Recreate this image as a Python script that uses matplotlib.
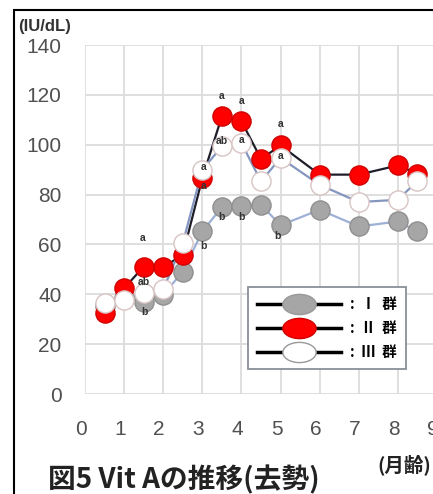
import matplotlib.pyplot as plt
from matplotlib.lines import Line2D
from matplotlib.path import Path
from matplotlib.patches import Rectangle
from matplotlib.transforms import Affine2D, ScaledTranslation

# 月齢ごとのビタミンA濃度 (IU/dL)
meses = [0.5, 1, 1.5, 2, 2.5, 3, 3.5, 4, 4.5, 5, 6, 7, 8, 8.5]
grupo1 = [35.5, 38.5, 37.0, 39.8, 49.1, 65.2, 75.0, 75.3, 75.9, 67.7, 73.9, 67.2, 69.2, 65.2]
grupo2 = [32.4, 42.4, 51.1, 50.9, 55.8, 86.6, 111.4, 109.4, 94.3, 99.7, 88.0, 88.0, 91.7, 88.4]
grupo3 = [36.4, 37.8, 40.7, 42.0, 60.5, 90.0, 99.3, 100.7, 85.3, 94.7, 83.9, 77.0, 77.9, 85.5]

# 有意差の記号
letras = ['a', 'ab', 'b', 'a', 'a', 'b', 'a', 'ab', 'b', 'a', 'a', 'b', 'a', 'a', 'b']
letras_x = [1.48, 1.5, 1.53, 3.04, 3.04, 3.04, 3.49, 3.49, 3.49, 4.0, 4.0, 4.0, 5.0, 5.0, 4.92]
letras_y = [62.5, 45.0, 33.0, 91.0, 83.3, 59.5, 119.7, 101.3, 71.2, 117.4, 102.0, 71.2, 108.4, 95.3, 63.5]

etiquetas = [':  Ⅰ  群', ':  Ⅱ  群', ':  Ⅲ  群']

W, H = 433, 494
fig = plt.figure(figsize=(W / 100, H / 100), dpi=100)
ax = fig.add_axes([85 / W, 1 - 394 / H, 352 / W, 349 / H])

estilos = [
    dict(line='#9db0d5', face='#a6a6a6', edge='#8f8f8f'),
    dict(line='#1e1e2a', face='#ff0000', edge='#d00000'),
    dict(line='#8496c0', face='#ffffff', edge='#d8c4c4'),
]
series = [grupo1, grupo2, grupo3]

for i, (ys, st) in enumerate(zip(series, estilos)):
    ax.plot(meses, ys, color=st['line'], lw=1.6, zorder=2 + i)
for i, (ys, st) in enumerate(zip(series, estilos)):
    ax.plot(meses, ys, ls='none', marker='o', ms=13.8, mfc=st['face'],
            mec=st['edge'], mew=1.0, zorder=5 + i)

for t, x, y in zip(letras, letras_x, letras_y):
    ax.text(x, y, t, ha='center', va='center', fontsize=7.5, fontweight='bold',
            color='#333333', family='Liberation Sans', zorder=10)

ax.set_xlim(0, 9)
ax.set_ylim(0, 140)
ax.set_xticks(range(0, 10))
ax.set_yticks(range(0, 141, 20))
ax.grid(True, color='#dcdcdc', lw=1.3)
ax.set_axisbelow(True)
for s in ax.spines.values():
    s.set_visible(False)
ax.tick_params(length=0, labelsize=15, labelcolor='#505050')
ax.tick_params(axis='y', pad=17)
ax.tick_params(axis='x', pad=19)
for lab in ax.get_xticklabels() + ax.get_yticklabels():
    lab.set_family('Liberation Sans')
for lab in ax.get_xticklabels():
    lab.set_transform(lab.get_transform() + ScaledTranslation(-4 / 100, 0, fig.dpi_scale_trans))

# 楕円マーカー
elipse = Path.unit_circle().transformed(Affine2D().scale(1.65, 1.0))
handles = [Line2D([], [], color='black', lw=2.5, marker=elipse, ms=24,
                  mfc=st['face'], mec='#999999' if i != 1 else '#d00000', mew=1.0)
           for i, st in enumerate(estilos)]
leg = ax.legend(handles, etiquetas, loc='upper left',
                bbox_to_anchor=(248 / W, 1 - 287 / H), bbox_transform=fig.transFigure,
                prop={'family': ['Noto Sans CJK JP'], 'weight': 'bold', 'size': 10.5},
                handlelength=5.8, handletextpad=0.6, labelspacing=0.55,
                borderpad=0.6, borderaxespad=0, fancybox=False, framealpha=1)
leg.get_frame().set_edgecolor('#8a9099')
leg.get_frame().set_linewidth(1.3)
leg.set_zorder(20)

fig.text(18 / W, 1 - 27 / H, '(IU/dL)', fontsize=12, fontweight='bold',
         color='#333333', family='Liberation Sans', va='center')
fig.text(377 / W, 1 - 465 / H, '(月齢)', fontsize=14, fontweight='bold',
         color='#222222', family=['Noto Sans CJK JP'], va='center')
fig.text(48 / W, 1 - 480 / H, '図5 Vit Aの推移(去勢)', fontsize=20, fontweight='bold',
         color='#222222', family=['Noto Sans CJK JP'], va='center')

fig.add_artist(Rectangle((14 / W, -0.1), 1.2, 1 - 10 / H + 0.1, transform=fig.transFigure,
                         fill=False, edgecolor='black', lw=1.5))

fig.savefig('out.png', dpi=100)
